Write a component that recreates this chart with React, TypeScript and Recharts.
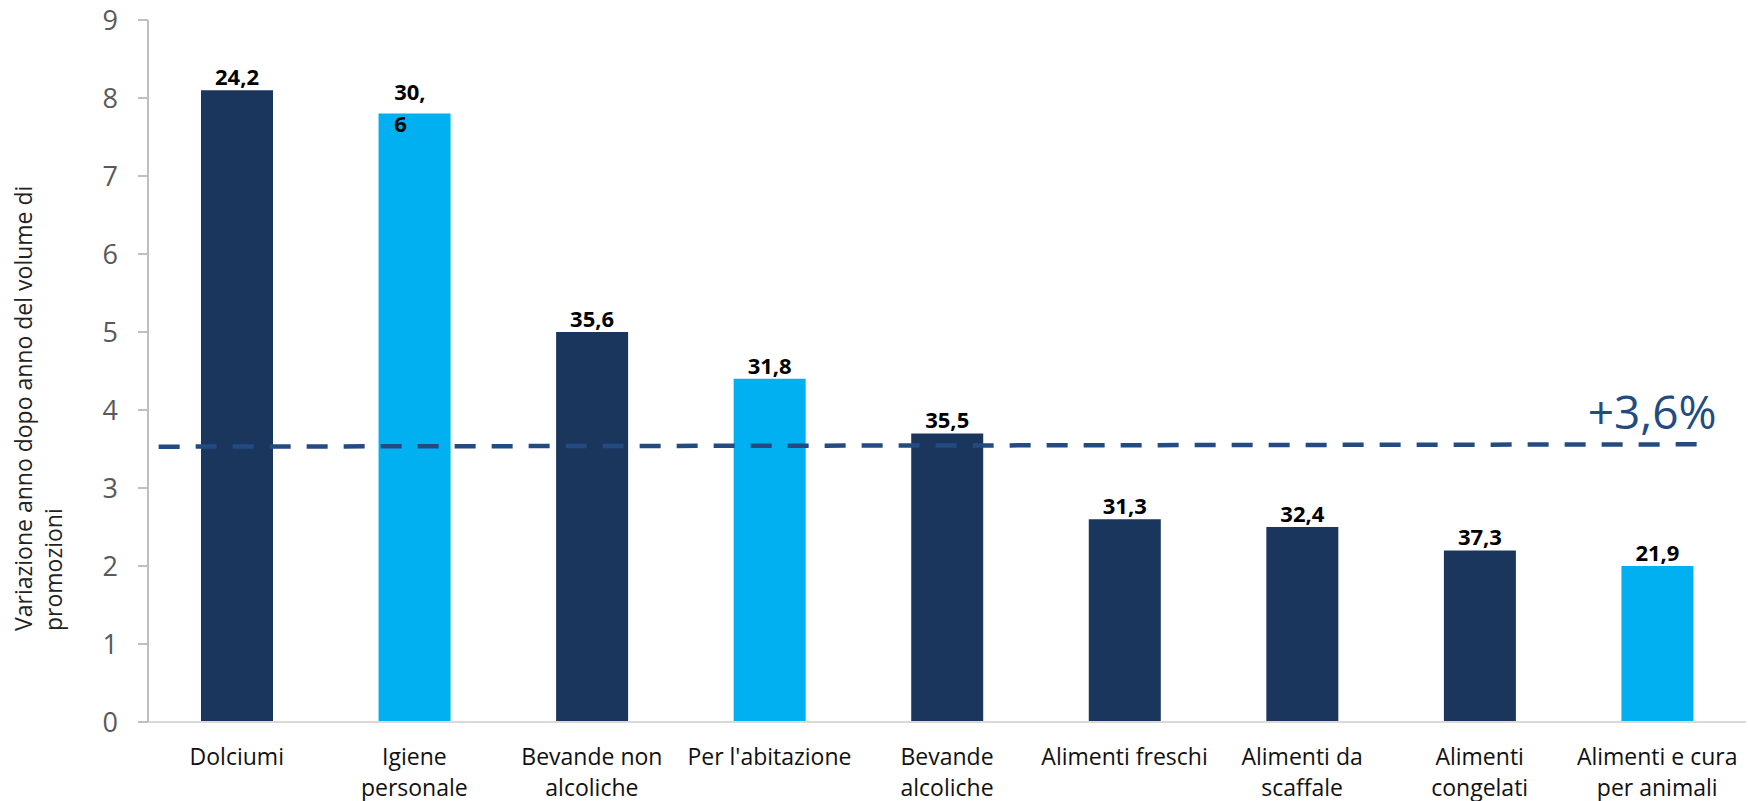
import { ComposedChart, Bar, Line, XAxis, YAxis, Cell, LabelList } from "recharts";

const categories = [
  "Dolciumi",
  "Igiene\npersonale",
  "Bevande non\nalcoliche",
  "Per l'abitazione",
  "Bevande\nalcoliche",
  "Alimenti freschi",
  "Alimenti da\nscaffale",
  "Alimenti\ncongelati",
  "Alimenti e cura\nper animali",
];

// year-on-year change in promotional volume
const volumeChange = [8.1, 7.8, 5.0, 4.4, 3.7, 2.6, 2.5, 2.2, 2.0];

// figure printed on top of each bar
const promoShare = [24.2, 30.6, 35.6, 31.8, 35.5, 31.3, 32.4, 37.3, 21.9];

const yTicks = [0, 1, 2, 3, 4, 5, 6, 7, 8, 9];

// overall average, dashed across the categories (x in category units)
const averageX = [0.06, 8.8];
const averageY = [3.53, 3.56];
const averageLabel = "+3,6%";

const yAxisTitle = ["Variazione anno dopo anno del volume di", "promozioni"];

const highlighted = new Set(["Igiene\npersonale", "Per l'abitazione", "Alimenti e cura\nper animali"]);
// this one breaks after the comma
const splitLabels = new Set(["Igiene\npersonale"]);

const DARK = "#1A365D";
const LIGHT = "#00B0F0";
const AVG = "#234B82";
const FONT = "'Open Sans', sans-serif";

const data = categories.map((name, i) => ({
  name,
  change: volumeChange[i],
  share: promoShare[i],
}));

const averageData = averageX.map((x, i) => ({ pos: x, avg: averageY[i] }));

const fmt = (v: number) => v.toFixed(1).replace(".", ",");

function CategoryTick(props: any) {
  const { x, y, payload } = props;
  const lines = String(payload.value).split("\n");
  return (
    <text x={x} y={y} textAnchor="middle" fontFamily={FONT} fontSize={23} fill="#111">
      {lines.map((l, i) => (
        <tspan key={i} x={x} dy={i === 0 ? 43 : 31}>
          {l}
        </tspan>
      ))}
    </text>
  );
}

function ShareLabel(props: any) {
  const { x, y, width, value, index } = props;
  const text = fmt(Number(value));
  const common = { fontFamily: FONT, fontSize: 22, fontWeight: 700, fill: "#000" };
  if (splitLabels.has(data[index].name)) {
    const [head, tail] = text.split(",");
    return (
      <g>
        <text x={x + 15.6} y={y - 14} textAnchor="start" {...common}>
          {head + ","}
        </text>
        <text x={x + 15.6} y={y + 18.4} textAnchor="start" {...common}>
          {tail}
        </text>
      </g>
    );
  }
  return (
    <text x={x + width / 2} y={y - 5} textAnchor="middle" {...common}>
      {text}
    </text>
  );
}

function AverageTag(props: any) {
  const { x, y, index } = props;
  if (index !== averageData.length - 1) return null;
  return (
    <text x={x + 6} y={y - 15} textAnchor="end" fontFamily={FONT} fontSize={46} fill={AVG}>
      {averageLabel}
    </text>
  );
}

function AxisTitle() {
  return (
    <g fontFamily={FONT} fontSize={23} fill="#222">
      <text x={32} y={631} transform="rotate(-90, 32, 631)" textAnchor="start">
        {yAxisTitle[0]}
      </text>
      <text x={62} y={631} transform="rotate(-90, 62, 631)" textAnchor="start">
        {yAxisTitle[1]}
      </text>
    </g>
  );
}

export default function App() {
  return (
    <div style={{ position: "absolute", left: 0, top: 0, background: "#fff", fontFamily: FONT }}>
      <ComposedChart width={1748} height={801} data={data} margin={{ top: 20, right: 2, left: 0, bottom: 0 }}>
        <XAxis
          dataKey="name"
          height={79}
          interval={0}
          tick={<CategoryTick />}
          tickLine={false}
          tickSize={0}
          tickMargin={0}
          axisLine={{ stroke: "#D9D9D9", strokeWidth: 2 }}
        />
        <XAxis xAxisId="avg" dataKey="pos" type="number" domain={[0, 9]} allowDataOverflow hide />
        <YAxis
          width={148}
          domain={[0, 9]}
          ticks={yTicks}
          interval={0}
          tickSize={10}
          tickMargin={20}
          tick={{ fill: "#595959", fontSize: 27, fontFamily: FONT }}
          tickLine={{ stroke: "#BFBFBF", strokeWidth: 2 }}
          axisLine={{ stroke: "#BFBFBF", strokeWidth: 2 }}
          label={<AxisTitle />}
        />
        <Bar dataKey="change" barSize={72} isAnimationActive={false}>
          {data.map((d) => (
            <Cell key={d.name} fill={highlighted.has(d.name) ? LIGHT : DARK} />
          ))}
          <LabelList dataKey="share" content={<ShareLabel />} />
        </Bar>
        <Line
          xAxisId="avg"
          data={averageData}
          dataKey="avg"
          stroke={AVG}
          strokeWidth={4.5}
          strokeDasharray="21 16"
          dot={false}
          activeDot={false}
          isAnimationActive={false}
        >
          <LabelList dataKey="avg" content={<AverageTag />} />
        </Line>
      </ComposedChart>
    </div>
  );
}
